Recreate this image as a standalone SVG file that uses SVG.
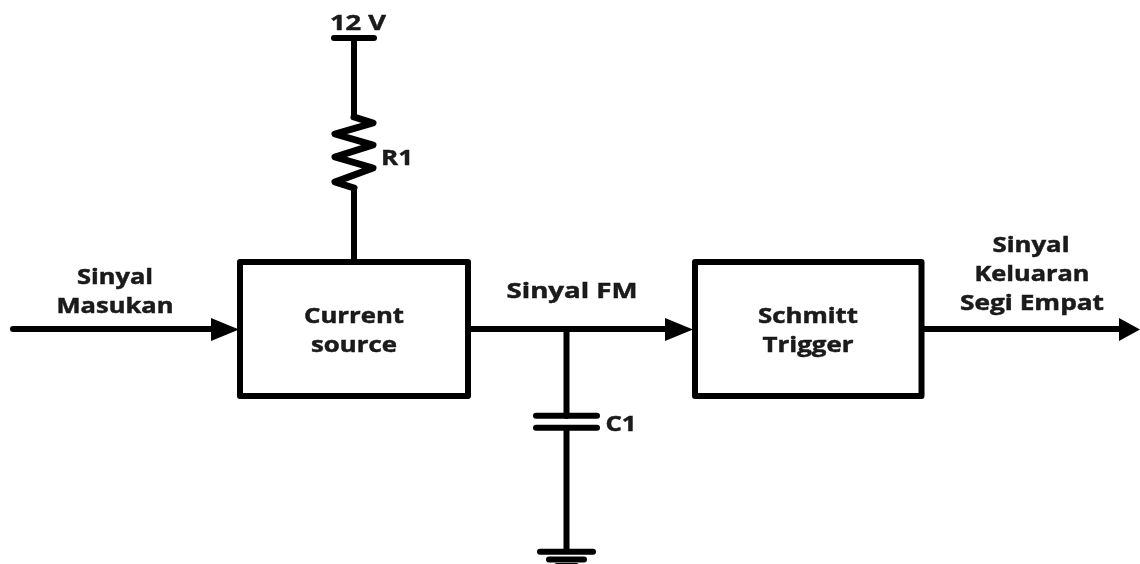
<svg xmlns="http://www.w3.org/2000/svg" width="1140" height="564" viewBox="0 0 1140 564">
<style>
.w{fill:none;stroke:#000;stroke-width:6;stroke-linecap:round;stroke-linejoin:round}
.b{fill:#fff;stroke:#000;stroke-width:6;stroke-linejoin:round}
.h{fill:#000}
text{font-family:"Open Sans","Liberation Sans",sans-serif;font-weight:700;font-size:22px;fill:#1a1a1a;stroke:#1a1a1a;stroke-width:.5;text-anchor:middle;filter:url(#s)}
</style>
<defs><filter id="s" x="-5%" y="-10%" width="110%" height="120%"><feGaussianBlur stdDeviation="0.6"/></filter></defs>
<rect width="1140" height="564" fill="#fff"/>
<g id="connectors">
<path class="w" d="M13 329H215"/><path class="h" d="M211 318L239 329.500L211 341Z"/>
<path class="w" d="M468 329H670"/><path class="h" d="M665 318L693 329.500L665 341Z"/>
<path class="w" d="M923 329H1122"/><path class="h" d="M1119 318L1140 329.500L1119 341Z"/>
<path class="w" d="M354 38V117M354 188V260"/>
<path class="w" style="stroke-width:7" d="M354 117L373 123L335 134L373 145L335 157L373 168L335 182L354 188"/>
<path class="w" d="M566.500 329V416M566.500 428V551"/>
</g>
<g id="vcc"><path class="w" d="M334 38H374"/><text x="358" y="30" textLength="56" lengthAdjust="spacingAndGlyphs">12 V</text></g>
<g id="r1"><text x="397" y="165" textLength="32" lengthAdjust="spacingAndGlyphs">R1</text></g>
<g id="c1"><path class="w" d="M536 415.700H597M536 427.700H597"/><text x="621" y="431" textLength="31" lengthAdjust="spacingAndGlyphs">C1</text></g>
<g id="gnd"><path class="w" d="M540 551.700H593M549 559.500H584M557 566H576"/></g>
<g id="current-source"><rect class="b" x="240" y="262" width="228" height="134"/><text x="354" y="323" textLength="100" lengthAdjust="spacingAndGlyphs">Current</text><text x="354" y="352" textLength="86" lengthAdjust="spacingAndGlyphs">source</text></g>
<g id="schmitt-trigger"><rect class="b" x="695" y="262" width="226.500" height="134"/><text x="808" y="323" textLength="100" lengthAdjust="spacingAndGlyphs">Schmitt</text><text x="808" y="352" textLength="91" lengthAdjust="spacingAndGlyphs">Trigger</text></g>
<g id="in-label"><text x="115" y="284" textLength="76" lengthAdjust="spacingAndGlyphs">Sinyal</text><text x="115" y="313" textLength="117" lengthAdjust="spacingAndGlyphs">Masukan</text></g>
<g id="fm-label"><text x="572" y="298" textLength="131" lengthAdjust="spacingAndGlyphs">Sinyal FM</text></g>
<g id="out-label"><text x="1031" y="252" textLength="77" lengthAdjust="spacingAndGlyphs">Sinyal</text><text x="1032" y="281" textLength="115" lengthAdjust="spacingAndGlyphs">Keluaran</text><text x="1032" y="310" textLength="144" lengthAdjust="spacingAndGlyphs">Segi Empat</text></g>
</svg>
